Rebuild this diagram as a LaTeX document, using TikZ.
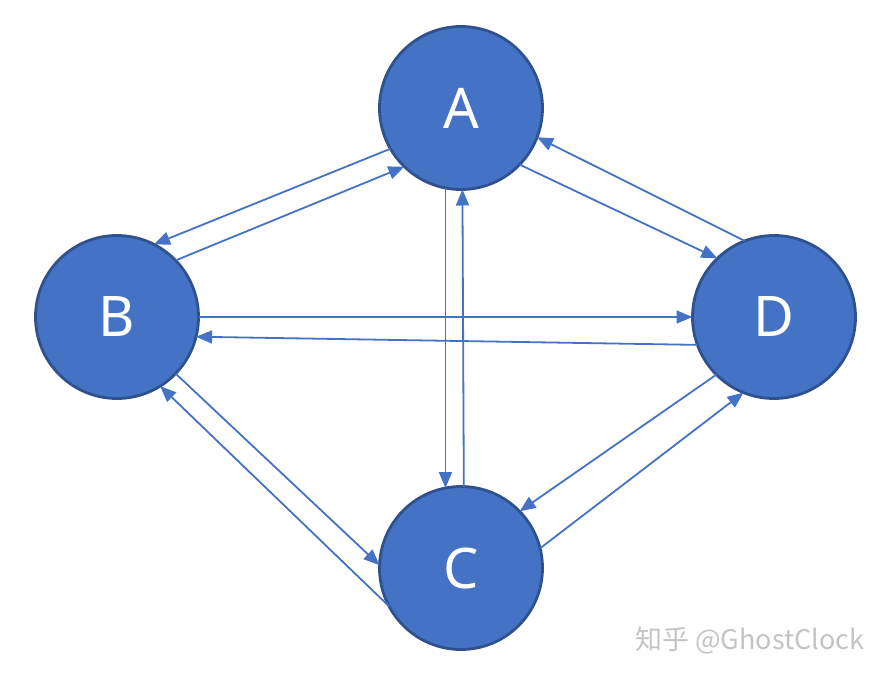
\documentclass[tikz,border=0pt]{standalone}
\usepackage{fontspec}
\setmainfont{Noto Sans}
\newfontfamily\cjk{Noto Sans CJK SC}
\usetikzlibrary{arrows.meta}
\definecolor{fillblue}{HTML}{4472C4}
\definecolor{edgeblue}{HTML}{2F528F}
\definecolor{wmgray}{HTML}{C4C4C4}
\tikzset{
  vert/.style={circle, fill=fillblue, draw=edgeblue, line width=2.8pt,
    minimum size=163pt, inner sep=0pt, outer sep=0pt, text=white,
    font=\fontsize{56}{60}\selectfont},
  link/.style={draw=fillblue, line width=1.8pt,
    -{Triangle[length=16pt,width=13pt]}}
}
\begin{document}
\begin{tikzpicture}[x=1pt,y=-1pt]
\useasboundingbox (0,0) rectangle (886,678);
\node[vert] (A) at (461,108) {A};
\node[vert] (B) at (117,317) {B};
\node[vert] (D) at (774,317) {D};
\node[vert] (C) at (461,568) {C};
% A <-> B
\draw[link] (A.210.8) -- (B.63.7);
\draw[link] (B.44.5) -- (A.226);
% A <-> D
\draw[link] (A.316) -- (D.134);
\draw[link] (D.111.4) -- (A.339);
% B <-> D
\draw[link] (B.0) -- (D.180);
\draw[link] (D.200.2) -- (B.346);
% A <-> C
\draw[link] (A.259) -- (C.101);
\draw[link] (C.88.6) -- (A.271.4);
% D <-> C
\draw[link] (D.225.5) -- (C.44.5);
\draw[link] (C.14.4) -- (D.248.7);
% B <-> C
\draw[link] (B.316) -- (C.178.6);
\draw[link] (C.208.4) -- (B.302.4);
% watermark
\node[anchor=west, text=wmgray, font=\cjk\fontsize{27}{30}\selectfont, inner sep=0pt] (wm) at (635,640) {知乎 @GhostClock};
\end{tikzpicture}
\end{document}
